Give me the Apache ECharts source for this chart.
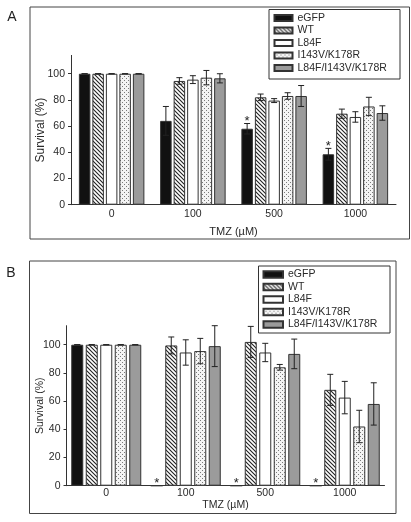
<!DOCTYPE html>
<html><head><meta charset="utf-8">
<script src="https://cdn.jsdelivr.net/npm/echarts@6/dist/echarts.min.js"></script>
<style>html,body{margin:0;padding:0;background:#fff}#c{width:411px;height:522px}</style>
</head><body><div id="c"></div>
<script>
// ---------- data ----------
const categories = ['0', '100', '500', '1000'];
const seriesNames = ['eGFP', 'WT', 'L84F', 'I143V/K178R', 'L84F/I143V/K178R'];
const yTicks = [0, 20, 40, 60, 80, 100];

// Panel A
const aEGFP = [100, 64, 58, 38.5];
const aWT = [100, 94.5, 82, 69.5];
const aL84F = [100, 95.5, 79.5, 67];
const aI143V = [100, 97, 83, 75];
const aCombo = [100, 96.5, 83, 70];
const aEGFPErr = [0, 11, 4, 4.5];
const aWTErr = [0, 2.5, 2.5, 3.5];
const aL84FErr = [0, 3, 1.5, 4];
const aI143VErr = [0, 5.5, 2.5, 7];
const aComboErr = [0, 3.5, 8, 5.5];
const aStarEGFP = [0, 0, 1, 1];

// Panel B
const bEGFP = [100, 0, 0, 0];
const bWT = [100, 99.5, 102, 68];
const bL84F = [100, 94.5, 94.5, 62.5];
const bI143V = [100, 95.5, 84, 42];
const bCombo = [100, 99, 93.5, 58];
const bEGFPErr = [0, 0, 0, 0];
const bWTErr = [0, 6, 11, 11];
const bL84FErr = [0, 9, 6.5, 11.5];
const bI143VErr = [0, 9, 2, 11.5];
const bComboErr = [0, 14.5, 10.5, 15];
const bStarEGFP = [0, 1, 1, 1];

// ---------- patterns ----------
function hatch() {
  const c = document.createElement('canvas'); c.width = 4; c.height = 4;
  const g = c.getContext('2d');
  g.fillStyle = '#fff'; g.fillRect(0, 0, 4, 4);
  g.strokeStyle = '#222'; g.lineWidth = 1.1;
  g.beginPath();
  g.moveTo(-1, -1); g.lineTo(5, 5);
  g.moveTo(-1, 3); g.lineTo(1, 5);
  g.moveTo(3, -1); g.lineTo(5, 1);
  g.stroke();
  return c;
}
function dots() {
  const c = document.createElement('canvas'); c.width = 4; c.height = 4;
  const g = c.getContext('2d');
  g.fillStyle = '#f4f4f4'; g.fillRect(0, 0, 4, 4);
  g.fillStyle = '#7a7a7a';
  g.fillRect(0, 0, 1, 1); g.fillRect(2, 2, 1, 1);
  return c;
}
const fills = ['#111', { image: hatch(), repeat: 'repeat' }, '#fff', { image: dots(), repeat: 'repeat' }, '#9b9b9b'];

const FONT = 'Liberation Sans, Arial, sans-serif';
const TXT = '#2a2a2a';

const panels = [
  { vals: [aEGFP, aWT, aL84F, aI143V, aCombo], errs: [aEGFPErr, aWTErr, aL84FErr, aI143VErr, aComboErr], stars: aStarEGFP, barW: 11.5, gap: 2 },
  { vals: [bEGFP, bWT, bL84F, bI143V, bCombo], errs: [bEGFPErr, bWTErr, bL84FErr, bI143VErr, bComboErr], stars: bStarEGFP, barW: 12, gap: 2.5 }
];

const series = [];
panels.forEach((p, g) => {
  const step = p.barW + p.gap;
  seriesNames.forEach((n, j) => {
    series.push({
      type: 'bar', name: n, xAxisIndex: g, yAxisIndex: g, data: p.vals[j],
      barWidth: p.barW, barGap: (p.gap / p.barW * 100) + '%',
      itemStyle: { color: fills[j], borderColor: '#333', borderWidth: 1 },
      z: 2, animation: false
    });
  });
  const errData = [];
  seriesNames.forEach((n, j) => {
    categories.forEach((c, i) => errData.push([i, p.vals[j][i], p.errs[j][i], j]));
  });
  series.push({
    type: 'custom', xAxisIndex: g, yAxisIndex: g, data: errData, z: 5, animation: false,
    renderItem: function (params, api) {
      const i = api.value(0), v = api.value(1), e = api.value(2), j = api.value(3);
      if (v === 0) return null;
      const base = api.coord([i, v]);
      const cx = base[0] + (j - 2) * step;
      const yt = api.coord([i, v + e])[1];
      const yb = api.coord([i, v - e])[1];
      const st = { stroke: '#222', lineWidth: 1 };
      return { type: 'group', children: [
        { type: 'line', shape: { x1: cx, y1: yt, x2: cx, y2: yb }, style: st },
        { type: 'line', shape: { x1: cx - 3, y1: yt, x2: cx + 3, y2: yt }, style: st },
        { type: 'line', shape: { x1: cx - 3, y1: yb, x2: cx + 3, y2: yb }, style: st }
      ] };
    }
  });
  const starData = [];
  p.stars.forEach((s, i) => { if (s) starData.push([i, p.vals[0][i] + p.errs[0][i], 0]); });
  series.push({
    type: 'custom', xAxisIndex: g, yAxisIndex: g, data: starData, z: 6, animation: false,
    renderItem: function (params, api) {
      const i = api.value(0), v = api.value(1), j = api.value(2);
      const c = api.coord([i, v]);
      return { type: 'text', x: c[0] + (j - 2) * step, y: c[1] - 2,
        style: { text: '*', fontSize: 13, fontFamily: FONT, fill: '#222', align: 'center', verticalAlign: 'middle' } };
    }
  });
});

function xAxis(g, margin, nameGap) {
  return {
    gridIndex: g, type: 'category', data: categories,
    axisLine: { lineStyle: { color: '#333', width: 1 } },
    axisTick: { length: 4, lineStyle: { color: '#333' } },
    axisLabel: { fontSize: 10.5, color: TXT, fontFamily: FONT, margin: margin },
    name: 'TMZ (µM)', nameLocation: 'middle', nameGap: nameGap,
    nameTextStyle: { fontSize: g === 0 ? 11 : 10.5, color: TXT, fontFamily: FONT }
  };
}
function yAxis(g, max, nameGap, nameSize) {
  return {
    gridIndex: g, type: 'value', min: 0, max: max, interval: 20,
    splitLine: { show: false },
    axisLine: { show: true, lineStyle: { color: '#333', width: 1 } },
    axisTick: { show: true, length: 3, lineStyle: { color: '#333' }, customValues: yTicks },
    axisLabel: { fontSize: 10.5, color: TXT, fontFamily: FONT, margin: 6, customValues: yTicks },
    name: 'Survival (%)', nameLocation: 'middle', nameGap: nameGap, nameRotate: 90,
    nameMoveOverlap: false,
    nameTextStyle: { fontSize: nameSize, color: TXT, fontFamily: FONT }
  };
}
function legend(left, top, w, h) {
  return {
    data: seriesNames, orient: 'vertical', left: left, top: top, padding: 0,
    itemWidth: w, itemHeight: h, itemGap: 0.5, icon: 'rect', selectedMode: false,
    textStyle: { fontSize: 10.5, lineHeight: 12, color: TXT, fontFamily: FONT }
  };
}

const option = {
  animation: false,
  backgroundColor: '#fff',
  grid: [
    { left: 71, right: 15, top: 55.4, bottom: 317.3 },
    { left: 66.5, right: 26.5, top: 325.7, bottom: 36.3 }
  ],
  xAxis: [xAxis(0, 4, 21.5), xAxis(1, 2, 14)],
  yAxis: [yAxis(0, 114, 24, 12), yAxis(1, 113.5, 20.5, 10.5)],
  legend: [legend(273.5, 12, 18, 6), legend(262.5, 268.5, 19.5, 6.5)],
  graphic: [
    { type: 'rect', shape: { x: 30, y: 7, width: 379.5, height: 232 }, style: { fill: 'none', stroke: '#444', lineWidth: 1 }, silent: true },
    { type: 'rect', shape: { x: 29.5, y: 261, width: 366.5, height: 252.5 }, style: { fill: 'none', stroke: '#444', lineWidth: 1 }, silent: true },
    { type: 'rect', shape: { x: 269, y: 9.5, width: 131, height: 69.5 }, style: { fill: 'none', stroke: '#333', lineWidth: 1 }, silent: true },
    { type: 'rect', shape: { x: 258.5, y: 266, width: 131.5, height: 67 }, style: { fill: 'none', stroke: '#333', lineWidth: 1 }, silent: true },
    { type: 'text', x: 12, y: 17, style: { text: 'A', fontSize: 14, fontFamily: FONT, fill: '#222', align: 'center', verticalAlign: 'middle' } },
    { type: 'text', x: 11, y: 273, style: { text: 'B', fontSize: 14, fontFamily: FONT, fill: '#222', align: 'center', verticalAlign: 'middle' } }
  ],
  series: series
};
const chart = echarts.init(document.getElementById('c'), null, { renderer: 'canvas' });
chart.setOption(option);
</script></body></html>
